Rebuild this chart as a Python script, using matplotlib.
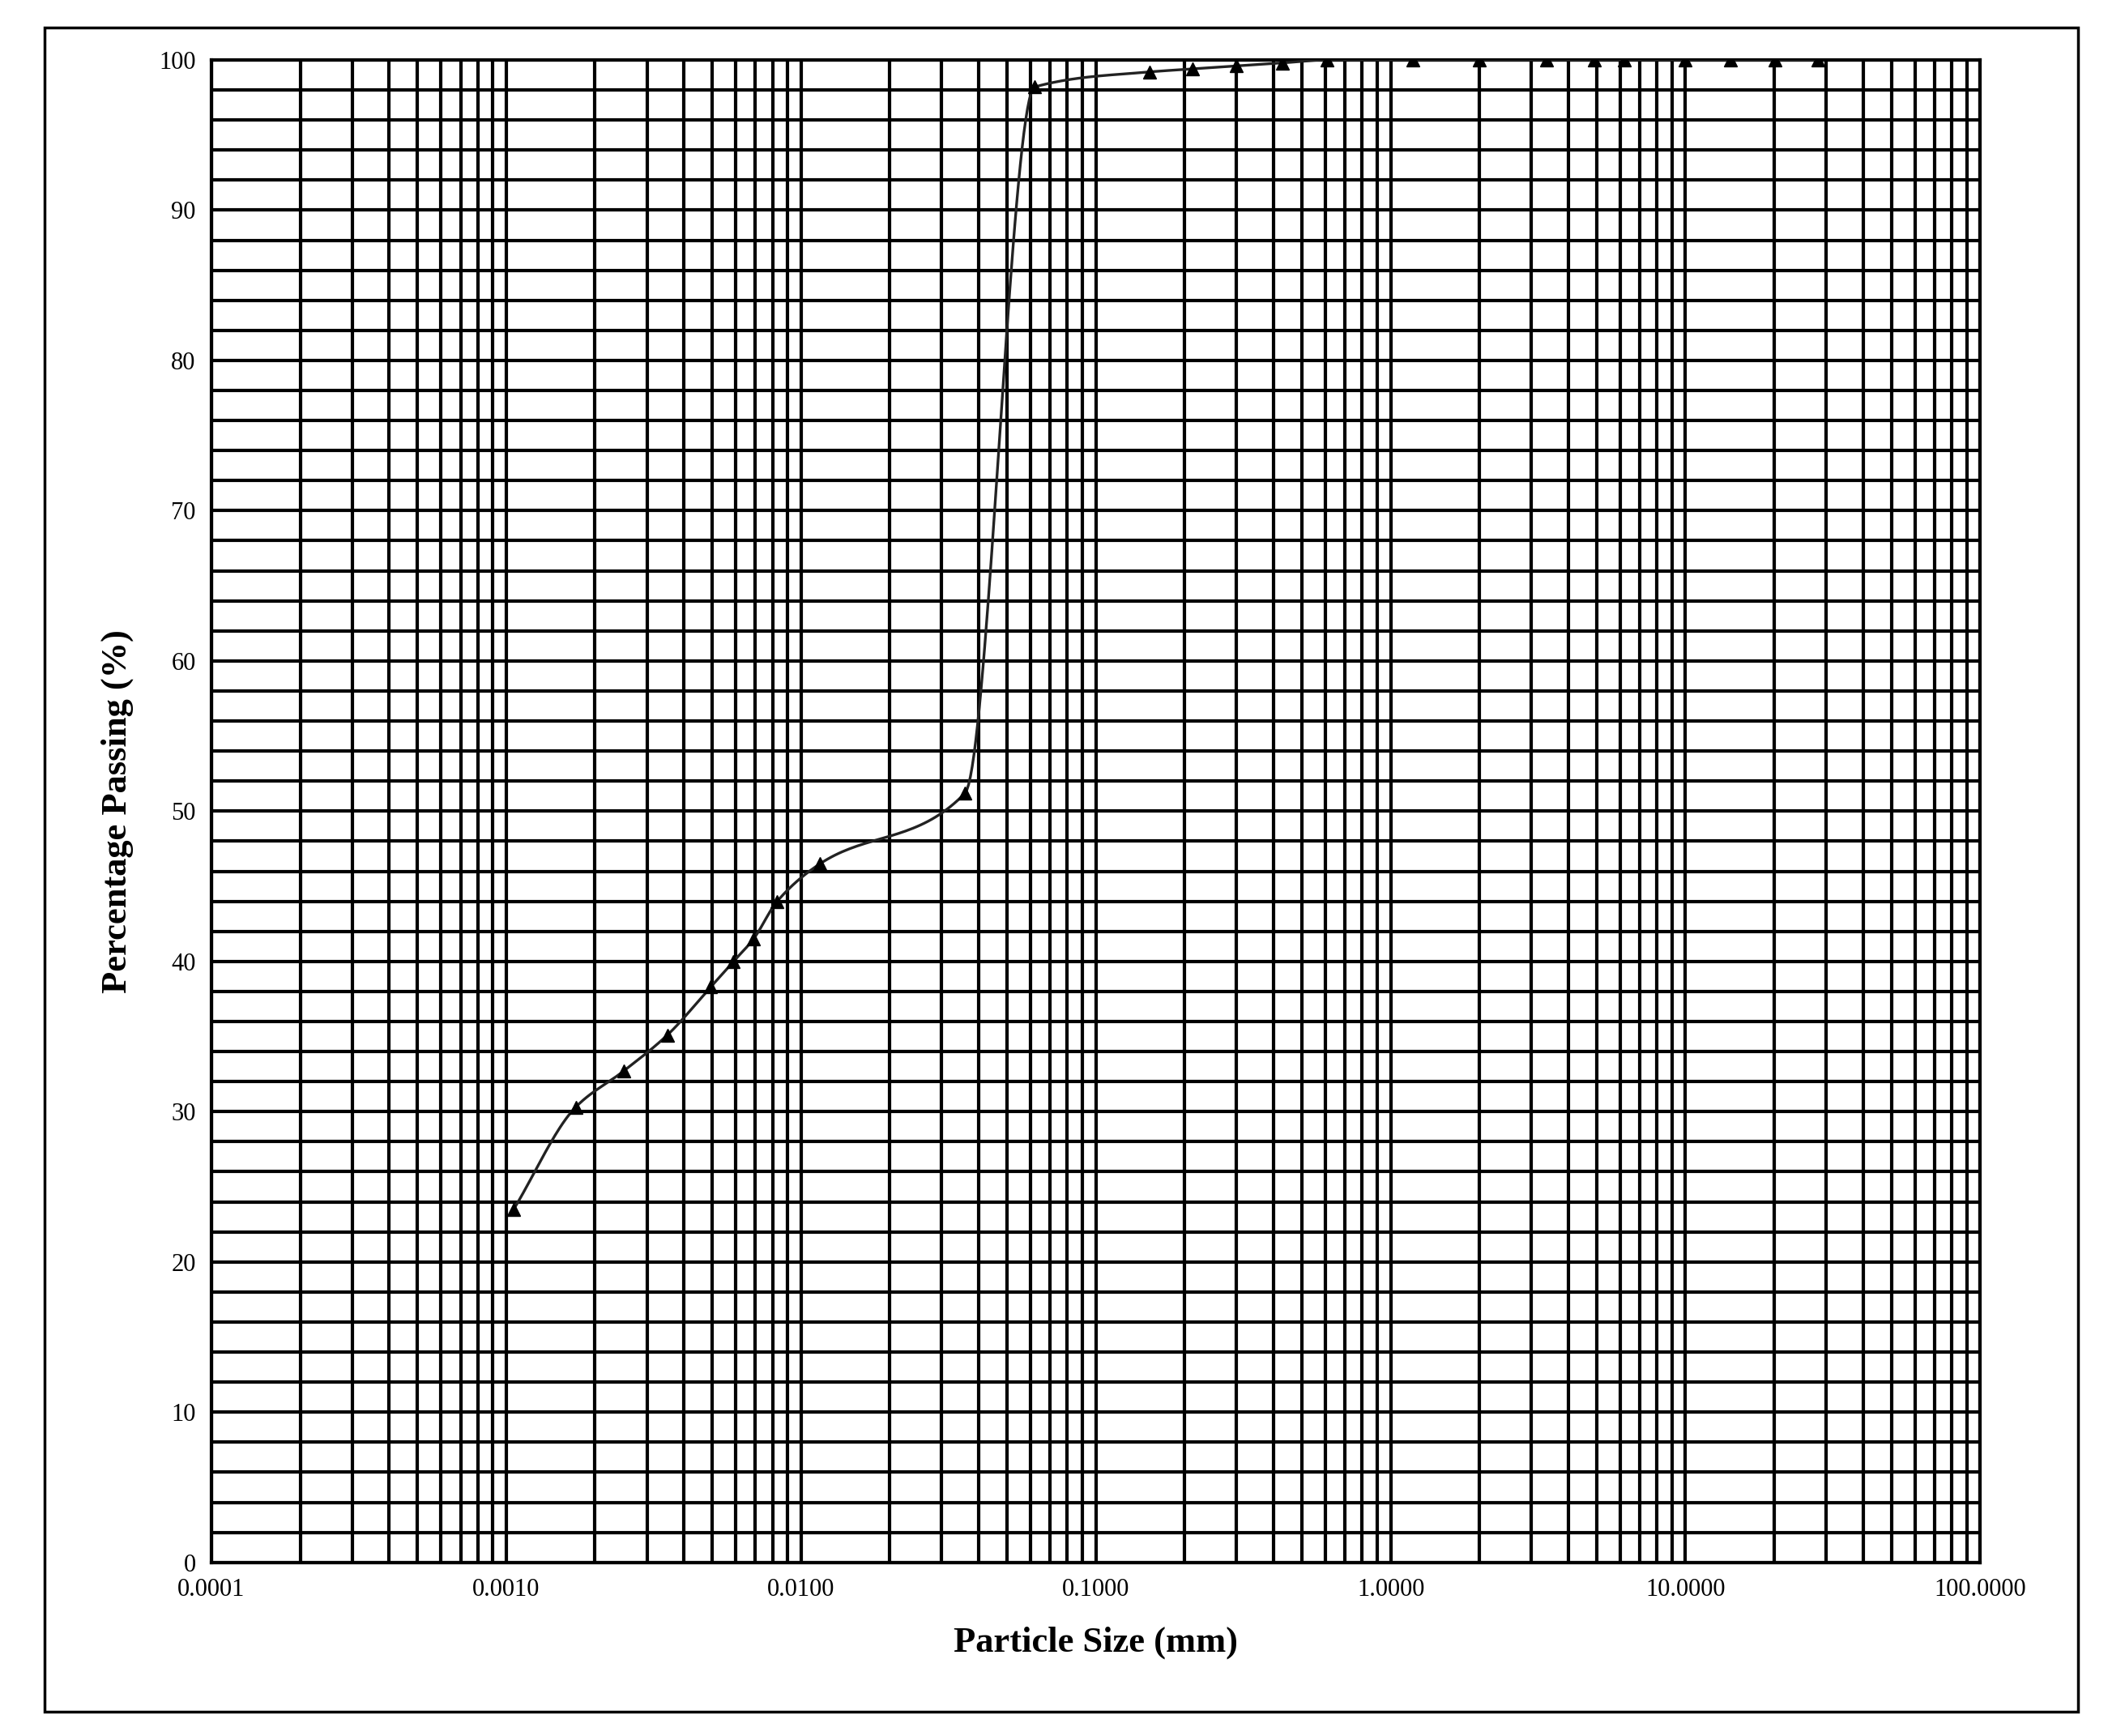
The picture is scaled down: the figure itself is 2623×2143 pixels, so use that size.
import matplotlib
matplotlib.use("Agg")
import matplotlib.pyplot as plt
from matplotlib.patches import Rectangle
from matplotlib.ticker import LogLocator, FixedLocator, NullFormatter
import numpy as np

# particle size (mm) and percentage passing
size = [0.00106, 0.00172, 0.0025, 0.00352, 0.00494, 0.0059, 0.0069, 0.0083,
        0.0116, 0.036, 0.062, 0.152, 0.213, 0.30, 0.43, 0.61, 1.19, 2.0,
        3.37, 4.92, 6.2, 10.0, 14.2, 20.1, 28.2]
passing = [23.5, 30.3, 32.7, 35.1, 38.3, 40.0, 41.5, 44.0, 46.5, 51.2, 98.2,
           99.2, 99.4, 99.6, 99.8, 100, 100, 100, 100, 100, 100, 100, 100,
           100, 100]
xtick_vals = [0.0001, 0.001, 0.01, 0.1, 1, 10, 100]
xtick_labels = ["0.0001", "0.0010", "0.0100", "0.1000", "1.0000", "10.0000", "100.0000"]


def smooth(x, y, n=40):
    # monotone cubic Hermite (PCHIP) in log-x space
    lx = np.log10(x)
    y = np.array(y, float)
    h = np.diff(lx)
    d = np.diff(y) / h
    m = np.zeros_like(y)
    m[0], m[-1] = d[0], d[-1]
    for i in range(1, len(y) - 1):
        if d[i - 1] * d[i] > 0:
            w1 = 2 * h[i] + h[i - 1]
            w2 = h[i] + 2 * h[i - 1]
            m[i] = (w1 + w2) / (w1 / d[i - 1] + w2 / d[i])
    xs, ys = [], []
    for i in range(len(y) - 1):
        t = np.linspace(0, 1, n)
        h00 = 2 * t**3 - 3 * t**2 + 1
        h10 = t**3 - 2 * t**2 + t
        h01 = -2 * t**3 + 3 * t**2
        h11 = t**3 - t**2
        xs.append(lx[i] + t * h[i])
        ys.append(h00 * y[i] + h10 * h[i] * m[i] + h01 * y[i + 1] + h11 * h[i] * m[i + 1])
    return 10 ** np.concatenate(xs), np.concatenate(ys)


plt.rcParams['font.family'] = ['Liberation Serif', 'DejaVu Serif']

fig = plt.figure(figsize=(26.23, 21.43), dpi=100)
ax = fig.add_axes([0.0995, 0.1, 0.8324, 0.8655])

sx, sy = smooth(size, passing)
ax.plot(sx, sy, color="#222222", lw=2.4, zorder=3)
ax.plot(size, passing, "^", color="black", ms=12, zorder=4)

ax.set_xscale("log")
ax.set_xlim(0.0001, 100)
ax.set_ylim(0, 100)
ax.xaxis.set_major_locator(FixedLocator(xtick_vals))
ax.set_xticklabels(xtick_labels)
ax.xaxis.set_minor_locator(LogLocator(base=10, subs=np.arange(2, 10)))
ax.xaxis.set_minor_formatter(NullFormatter())
ax.set_yticks(range(0, 101, 10))
ax.set_yticks(range(0, 101, 2), minor=True)
ax.grid(True, which="both", color="black", lw=3)
ax.tick_params(which="both", length=0, labelsize=22, pad=14)
for s in ax.spines.values():
    s.set_linewidth(3)

ax.set_xlabel("Particle Size (mm)", fontsize=32, fontweight="bold", labelpad=22)
ax.set_ylabel("Percentage Passing (%)", fontsize=32, fontweight="bold", labelpad=22)

fig.patches.append(Rectangle((55 / 2623, 1 - 2113 / 2143), 2510 / 2623, 2079 / 2143,
                             transform=fig.transFigure, fill=False, lw=2.5, color="black"))

fig.savefig("out.png", dpi=100)
